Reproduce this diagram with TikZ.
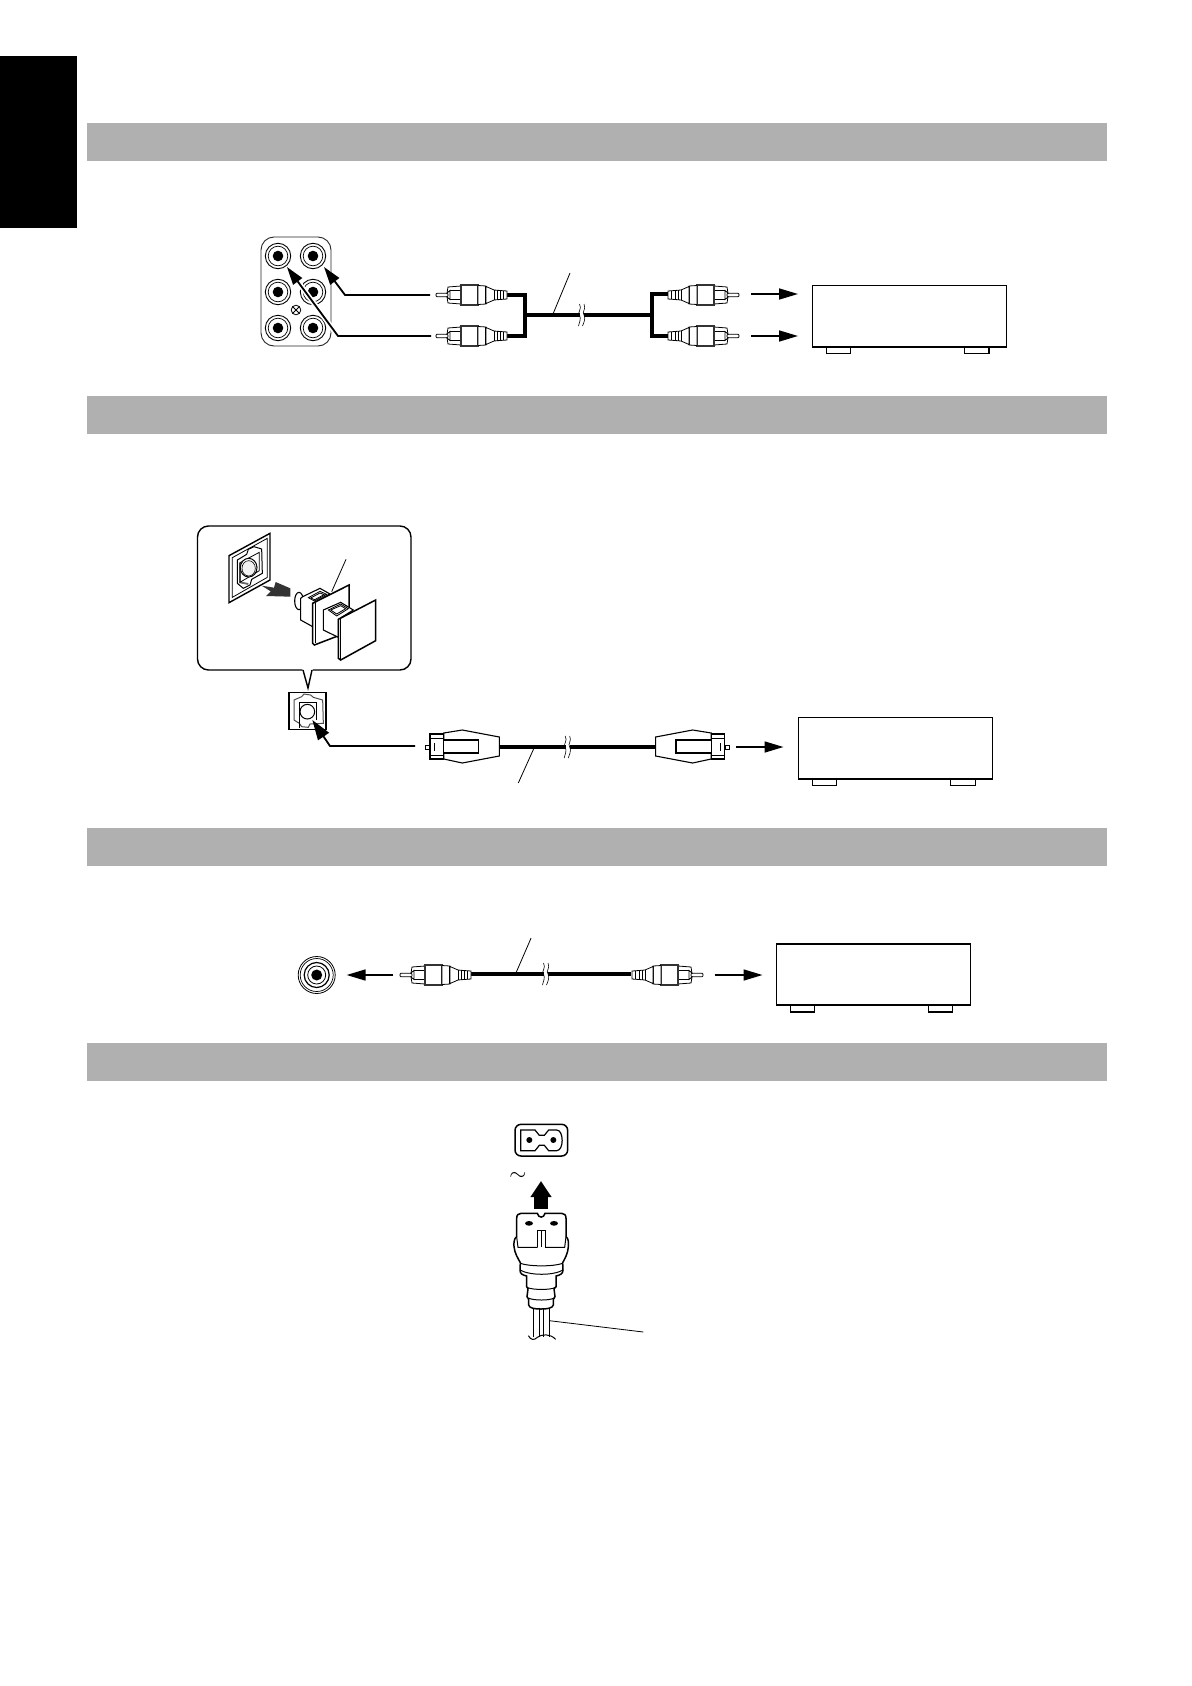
\documentclass[tikz,border=0pt]{standalone}
\usetikzlibrary{arrows.meta}
\definecolor{barg}{HTML}{B0B0B0}
\tikzset{
  thin line/.style={line width=0.4pt,black},
  med line/.style={line width=0.55pt,black},
  cable/.style={line width=2.3pt,black},
  wire/.style={line width=0.9pt,black},
  conn arrow/.style={line width=0.9pt,black,-{Triangle[length=9pt,width=5.5pt]}},
  pull arrow/.style={line width=0.9pt,black,-{Triangle[length=10pt,width=6.5pt]}},
  halo/.style={line width=2.6pt,white},
  out arrow/.style={line width=0.8pt,black,-{Triangle[length=9.5pt,width=5.5pt]}},
  bar/.style={fill=barg,draw=none},
  leader/.style={line width=0.4pt,black},
  pics/rcaplug/.style={code={
    \draw[line width=0.4pt,black,fill=white,rounded corners=0.5pt] (0,-1.8) rectangle (12,1.8);
    \draw[thin line,fill=white] (11,-2) -- (12,-8) -- (25,-9) -- (25,9) -- (12,8) -- (11,2) -- (14,4.5) -- (14,-4.5) -- cycle;
    \draw[line width=0.3pt] (14,-4.5) -- (25,-4.5) (14,4.5) -- (25,4.5);
    \draw[line width=0.55pt,black!80,fill=white] (25,-10) rectangle (42,10);
    \draw[thin line,fill=white] (42,-9.5) -- (50,-9) -- (50,9) -- (42,9.5) -- cycle;
    \draw[line width=0.7pt] (50,-9) -- (50,9);
    \draw[thin line,fill=white] (50,-8.5) -- (58,-5) -- (64,-4.5) -- (71,-4) -- (71,4) -- (64,4.5) -- (58,5) -- (50,8.5) -- cycle;
    \draw[line width=0.3pt] (58,-5) -- (58,5) (61,-4.7) -- (61,4.7) (64,-4.5) -- (64,4.5) (67.5,-4.2) -- (67.5,4.2);
  }},
  pics/optoplug/.style={code={
    \draw[thin line,fill=white] (0,-2) rectangle (4.7,2);
    \draw[med line,fill=white] (4.7,-13) rectangle (18.4,12);
    \draw[thin line] (4.7,-9) -- (18.4,-9) (4.7,8) -- (18.4,8);
    \draw[thin line] (9,-4) -- (9,4);
    \draw[med line,fill=white] (18.4,-14) -- (37,-17) -- (74,-10) -- (74,9) -- (37,16) -- (18.4,12) -- cycle;
    \draw[med line,fill=white] (18.4,-7) rectangle (53.6,6);
  }},
  pics/devicebox/.style={code={
    \draw[med line,fill=white] (14,61) rectangle (38,68);
    \draw[med line,fill=white] (152,61) rectangle (176.5,68);
    \draw[line width=0.65pt,fill=white] (0,0) rectangle (194,61.5);
  }},
  pics/cablebreak/.style={code={
    \fill[white] (-2,-5) rectangle (2,5);
    \draw[line width=0.3pt] (-2.5,-11) .. controls (0.5,-6) and (-5,-3) .. (-2.5,0) .. controls (-0.5,4) and (-3,8) .. (-3.5,11);
    \draw[line width=0.3pt] (2,-11) .. controls (4.5,-6) and (-0.5,-3) .. (2,0) .. controls (4,4) and (1.5,8) .. (0.5,11);
  }},
  pics/rcajack/.style={code={
    \draw[line width=0.45pt,fill=white] (0,0) circle (12.7);
    \draw[line width=0.35pt,fill=white] (0,0) circle (9.8);
    \fill[black] (0,0) circle (5.3);
  }}
}
\begin{document}
\begin{tikzpicture}[x=0.5pt,y=-0.5pt]
\useasboundingbox (0,0) rectangle (1192,1686);
\fill[white] (0,0) rectangle (1192,1686);
% side tab and section bars
\fill[black] (0,56) rectangle (77,228);
\fill[bar] (87,123.3) rectangle (1106.7,160.8);
\fill[bar] (87,396) rectangle (1106.7,434);
\fill[bar] (87,828) rectangle (1106.7,865.7);
\fill[bar] (87,1043) rectangle (1106.7,1081);

% ---------- section 1
\draw[line width=0.45pt,black!85,fill=white,rounded corners=6.5pt] (261,237) rectangle (331,346);
\foreach \px/\py in {278/256,313/256,278/292,313/292,278/328,313/328} \pic at (\px,\py) {rcajack};
\draw[thin line] (296,310) circle (4.8);
\draw[thin line] (292.6,306.6) -- (299.4,313.4) (292.6,313.4) -- (299.4,306.6);
\coordinate (a1s) at (430,295); \coordinate (a1b) at (345,295); \coordinate (a1t) at (324,267);
\coordinate (a2s) at (431,336); \coordinate (a2b) at (338,336); \coordinate (a2t) at (287,267);
\draw[halo] (a1b) -- (a1t);
\draw[halo] (a2b) -- (a2t);
\draw[conn arrow] (a1s) -- (a1b) -- (a1t);
\draw[conn arrow] (a2s) -- (a2b) -- (a2t);
\coordinate (c1a) at (507,295); \coordinate (c1b) at (525,295); \coordinate (c1c) at (525,336); \coordinate (c1d) at (507,336);
\coordinate (c2a) at (668,294); \coordinate (c2b) at (652,294); \coordinate (c2c) at (652,336); \coordinate (c2d) at (668,336);
\coordinate (tl) at (525,315); \coordinate (tr) at (652,315);
\draw[cable,line join=miter] (c1a) -- (c1b) -- (c1c) -- (c1d);
\draw[cable,line join=miter] (c2a) -- (c2b) -- (c2c) -- (c2d);
\draw[cable] (tl) -- (tr);
\pic at (582,315) {cablebreak};
\pic at (436,295) {rcaplug};
\pic at (436,336) {rcaplug};
\pic[xscale=-1] at (739,295) {rcaplug};
\pic[xscale=-1] at (739,336) {rcaplug};
\coordinate (l1a) at (570,273); \coordinate (l1b) at (553,314);
\draw[leader] (l1a) -- (l1b);
\coordinate (o1a) at (751,294); \coordinate (o1b) at (798,294);
\coordinate (o2a) at (751,336); \coordinate (o2b) at (798,336);
\draw[out arrow] (o1a) -- (o1b);
\draw[out arrow] (o2a) -- (o2b);
\pic at (812.5,285.5) {devicebox};

% ---------- section 2 : zoomed inset
\draw[line width=0.7pt,fill=white,rounded corners=5.5pt] (197.5,526) rectangle (411,670);
\fill[white] (302,668) -- (313,668) -- (308,688) -- cycle;
\draw[line width=0.7pt,white] (303,670) -- (312,670);
\draw[line width=0.7pt] (303,670) -- (308,688) -- (312,670);
\begin{scope}[shift={(180,520)},x=0.16667pt,y=-0.16667pt]
  \draw[line width=0.7pt] (147,107) -- (270,40) -- (270,180) -- (147,248) -- cycle;
  \draw[thin line] (157,113) -- (262,55) -- (262,172) -- (157,232) -- cycle;
  \draw[line width=0.5pt,fill=white] (172,120) -- (200,103) -- (205,88) -- (222,80) -- (245,87) -- (247,160) -- (215,178) -- (210,195) -- (190,205) -- (172,190) -- cycle;
  \draw[line width=0.9pt,black!60] (180,128) -- (180,187) -- (205,192);
  \draw[thin line] (180,128) -- (238,97) -- (238,152) -- (180,187) -- cycle;
  \draw[line width=0.5pt,fill=white] (206,143) ellipse (25 and 28);
  \draw[line width=0.3pt,fill=black!5] (206,145) ellipse (20 and 23);
  % pull arrow
  \fill[black!80] (245,197) -- (282,203) -- (287,186) -- (331,205) -- (331,230) -- (258,228) -- (272,214) -- cycle;
  % cap
  \draw[med line,fill=white] (357,243) ellipse (13 and 26);
  \draw[med line,fill=white] (362,235) -- (362,300) -- (398,320) -- (398,250) -- (450,222) -- (420,205) -- (368,230) -- cycle;
  \draw[thin line,fill=black!10] (385,233) -- (420,214) -- (440,223) -- (403,243) -- cycle;
  \draw[thin line,fill=white] (392,234) -- (420,219) -- (432,224) -- (404,239) -- cycle;
  \draw[line width=0.75pt,fill=white] (398,250) -- (507,195) -- (507,335) -- (403,375) -- (398,370) -- cycle;
  \draw[thin line] (405,250) -- (405,370);
  \draw[med line,fill=white] (430,270) -- (430,330) -- (475,352) -- (475,298) -- (520,270) -- (482,247) -- cycle;
  \draw[thin line,fill=black!10] (445,270) -- (482,252) -- (505,266) -- (470,288) -- cycle;
  \draw[thin line,fill=white] (452,270) -- (482,257) -- (497,266) -- (470,282) -- cycle;
  \draw[line width=0.75pt,fill=white] (475,298) -- (587,240) -- (587,362) -- (482,420) -- (475,415) -- cycle;
  \draw[thin line] (482,298) -- (482,418);
  \coordinate (l2a) at (498,118); \coordinate (l2b) at (455,215);
  \draw[leader] (l2a) -- (l2b);
  % optical jack
  \draw[line width=0.75pt,fill=white] (327,518) rectangle (438,628);
  \draw[line width=0.5pt,black!70] (342,540) -- (365,530) -- (372,522) -- (392,525) -- (400,532) -- (428,540) -- (430,610) -- (390,612) -- (385,622) -- (365,620) -- (358,610) -- (342,600) -- cycle;
  \draw[line width=0.7pt] (358,625) -- (358,548) -- (410,548) -- (410,600);
  \draw[line width=0.5pt,fill=white] (382,575) circle (22);
  \coordinate (a3s) at (705,678); \coordinate (a3b) at (450,678); \coordinate (a3t) at (397,600);
  \draw[pull arrow] (a3s) -- (a3b) -- (a3t);
\end{scope}
% section 2 cable
\coordinate (c3a) at (499,747); \coordinate (c3b) at (656,747);
\draw[cable] (c3a) -- (c3b);
\pic at (567.7,747) {cablebreak};
\pic at (425.3,747) {optoplug};
\pic[xscale=-1] at (729.6,747) {optoplug};
\coordinate (l3a) at (533.6,749); \coordinate (l3b) at (518.3,783);
\draw[leader] (l3a) -- (l3b);
\coordinate (o3a) at (736.4,747); \coordinate (o3b) at (783.5,747);
\draw[out arrow] (o3a) -- (o3b);
\pic at (798.7,717.5) {devicebox};

% ---------- section 3
\draw[thin line] (316.7,975) circle (18.5);
\draw[line width=0.35pt] (316.7,975) circle (16.5);
\draw[line width=0.6pt] (316.7,975) circle (12.5);
\draw[thin line] (316.7,975) circle (9);
\fill[black] (316.7,975) circle (5.5);
\coordinate (o4a) at (393.4,975); \coordinate (o4b) at (346.6,975);
\draw[out arrow] (o4a) -- (o4b);
\coordinate (c4a) at (470.5,974); \coordinate (c4b) at (631.2,974);
\draw[line width=2pt] (c4a) -- (c4b);
\pic at (546,974) {cablebreak};
\pic at (400,975) {rcaplug};
\pic[xscale=-1] at (703,975) {rcaplug};
\coordinate (l4a) at (531.1,938); \coordinate (l4b) at (515.5,974);
\draw[leader] (l4a) -- (l4b);
\coordinate (o5a) at (714.5,975); \coordinate (o5b) at (762.5,975);
\draw[out arrow] (o5a) -- (o5b);
\pic at (776.4,944) {devicebox};
\coordinate (bb1) at (776.4,1005); \coordinate (bb2) at (970.4,1005);
\draw[line width=1pt] (bb1) -- (bb2);

% ---------- section 4
\begin{scope}[shift={(490,1110)},x=0.16667pt,y=-0.16667pt]
  \draw[line width=0.75pt,fill=white,rounded corners=3pt] (75,43) rectangle (233,138);
  \draw[line width=0.6pt] (92,60) -- (135,60) -- (148,76) -- (163,76) -- (176,60) -- (200,60) .. controls (222,60) and (222,122) .. (200,122) -- (176,122) -- (163,106) -- (148,106) -- (135,122) -- (92,122) -- cycle;
  \fill[black] (118,90) circle (9);
  \fill[black] (190,90) circle (9);
  % plug
  \draw[line width=0.75pt,fill=white]
    (80,325) .. controls (80,315) and (85,310) .. (93,310) -- (142,310)
    .. controls (145,325) and (162,325) .. (165,310) -- (215,310)
    .. controls (223,310) and (228,315) .. (228,325) -- (228,380)
    .. controls (235,385) and (236,395) .. (235,410) .. controls (234,430) and (225,445) .. (218,458)
    -- (219,480) .. controls (219,492) and (210,495) .. (198,498)
    -- (198,530) -- (192,536) -- (195,560) -- (190,568) -- (190,585) .. controls (188,595) and (170,597) .. (153,597)
    .. controls (135,597) and (118,595) .. (116,585) -- (116,568) -- (111,560) -- (114,536) -- (110,530) -- (110,498)
    .. controls (98,495) and (90,492) .. (90,480) -- (91,458)
    .. controls (84,445) and (74,430) .. (72,410) .. controls (71,395) and (73,385) .. (80,380) -- cycle;
  \draw[line width=0.5pt] (80,380) -- (84,412) -- (143,412) (165,412) -- (224,412) -- (228,380);
  \draw[line width=0.4pt] (143,412) -- (143,362) -- (165,362) -- (165,412) (154,362) -- (154,412);
  \draw[line width=0.5pt] (91,460) .. controls (120,470) and (190,470) .. (218,460);
  \draw[line width=0.5pt] (90,480) .. controls (120,497) and (190,497) .. (219,480);
  \draw[line width=0.5pt] (113,533) .. controls (130,540) and (180,540) .. (195,533);
  \draw[line width=0.5pt] (115,564) .. controls (130,572) and (180,572) .. (192,564);
  \fill[black] (117,340) ellipse (12 and 7);
  \fill[black] (192,340) ellipse (12 and 7);
  % cord
  \foreach \cx in {130,148,160,178} \draw[line width=0.5pt] (\cx,597) -- (\cx,682);
  \draw[line width=0.5pt] (115,677) .. controls (122,690) and (132,692) .. (142,682) .. controls (155,672) and (180,670) .. (197,688);
  % arrow
  \coordinate (pa) at (153,297); \coordinate (pb) at (153,213);
  \draw[line width=6.8pt,-{Triangle[length=8pt,width=10pt]},black] (pa) -- (pb);
  % leader
  \coordinate (l5a) at (178,632); \coordinate (l5b) at (460,666);
  \draw[leader] (l5a) -- (l5b);
\end{scope}
\node[inner sep=0pt,font=\fontsize{11}{11}\selectfont] (tilde) at (518,1176) {$\sim$};
\end{tikzpicture}
\end{document}
